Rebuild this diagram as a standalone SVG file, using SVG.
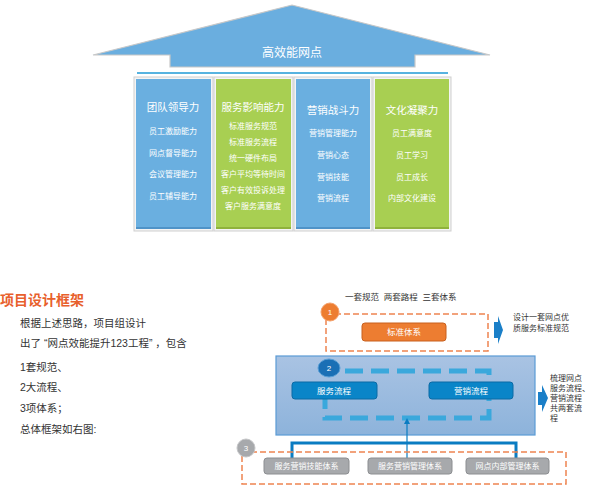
<svg xmlns="http://www.w3.org/2000/svg" width="592" height="494" viewBox="0 0 592 494">
<style>
.cjk{font-family:"Liberation Sans","Noto Sans CJK SC",sans-serif}
.wt{fill:#fff;text-anchor:middle;font-size:8px}
.hd{font-size:10.5px}
.frame{fill:#f4f4f4;stroke:#cfcfcf;stroke-width:1}
.blue{fill:#6aafe0}
.green{fill:#a8cf52}
.body{fill:#333;font-size:10.5px}
.note{fill:#333;font-size:8px}
.odash{fill:none;stroke:#ee8450;stroke-width:1.5;stroke-dasharray:6 3}
.gbtn{fill:#a7a9ac;stroke:#8c8e91;stroke-width:1}
.bbtn{fill:#0a85c8;stroke:#0b6aa5;stroke-width:1}
</style>
<defs>
<linearGradient id="panel" x1="0" y1="0" x2="0" y2="1">
<stop offset="0" stop-color="#a9c3e3"/><stop offset="1" stop-color="#8db3db"/>
</linearGradient>
</defs>
<rect width="592" height="494" fill="#fff"/>

<g id="roof">
<path d="M93,55 L292,5 L490,55 L415,55 L415,67 L170,67 L170,55 Z" fill="#6aaedf" stroke="#c8c8c8" stroke-width="1.2"/>
<text class="cjk wt" x="292" y="57" style="font-size:12px">高效能网点</text>
<line x1="137" y1="73" x2="448" y2="73" stroke="#1f9ad6" stroke-width="1.5"/>
</g>

<g id="col1">
<rect class="frame" x="134" y="77" width="79" height="154"/>
<rect class="blue" x="136" y="79" width="75" height="150"/>
<rect x="136" y="227" width="75" height="2" fill="#4f93c8"/>
<g class="cjk">
<text class="wt hd" x="173" y="111">团队领导力</text>
<text class="wt" x="173" y="134">员工激励能力</text>
<text class="wt" x="173" y="156">网点督导能力</text>
<text class="wt" x="173" y="177">会议管理能力</text>
<text class="wt" x="173" y="199">员工辅导能力</text>
</g>
</g>

<g id="col2">
<rect class="frame" x="214" y="77" width="79" height="154"/>
<rect class="green" x="216" y="79" width="75" height="150"/>
<rect x="216" y="227" width="75" height="2" fill="#8fb23c"/>
<g class="cjk">
<text class="wt hd" x="253" y="111">服务影响能力</text>
<text class="wt" x="253" y="129">标准服务规范</text>
<text class="wt" x="253" y="145">标准服务流程</text>
<text class="wt" x="253" y="161">统一硬件布局</text>
<text class="wt" x="253" y="177">客户平均等待时间</text>
<text class="wt" x="253" y="193">客户有效投诉处理</text>
<text class="wt" x="253" y="209">客户服务满意度</text>
</g>
</g>

<g id="col3">
<rect class="frame" x="294" y="77" width="78" height="154"/>
<rect class="blue" x="296" y="79" width="74" height="150"/>
<rect x="296" y="227" width="74" height="2" fill="#4f93c8"/>
<g class="cjk">
<text class="wt hd" x="333" y="114">营销战斗力</text>
<text class="wt" x="333" y="136">营销管理能力</text>
<text class="wt" x="333" y="158">营销心态</text>
<text class="wt" x="333" y="180">营销技能</text>
<text class="wt" x="333" y="201">营销流程</text>
</g>
</g>

<g id="col4">
<rect class="frame" x="373" y="77" width="78" height="154"/>
<rect class="green" x="375" y="79" width="74" height="150"/>
<rect x="375" y="227" width="74" height="2" fill="#8fb23c"/>
<g class="cjk">
<text class="wt hd" x="412" y="114">文化凝聚力</text>
<text class="wt" x="412" y="136">员工满意度</text>
<text class="wt" x="412" y="158">员工学习</text>
<text class="wt" x="412" y="180">员工成长</text>
<text class="wt" x="412" y="201">内部文化建设</text>
</g>
</g>

<g id="left-text" class="cjk">
<text x="0" y="305" fill="#e8602c" font-weight="bold" font-size="14">项目设计框架</text>
<text class="body" x="20" y="327">根据上述思路，项目组设计</text>
<text class="body" x="20" y="347" style="white-space:pre">出了 “网点效能提升123工程” ，包含</text>
<text class="body" x="20" y="371">1套规范、</text>
<text class="body" x="20" y="391">2大流程、</text>
<text class="body" x="20" y="412">3项体系；</text>
<text class="body" x="20" y="433">总体框架如右图:</text>
</g>

<g id="header" class="cjk">
<text class="note" x="345" y="300" style="font-size:8.5px;white-space:pre">一套规范  两套路程  三套体系</text>
</g>

<g id="layer1">
<rect class="odash" x="326" y="314" width="162" height="37"/>
<circle cx="330" cy="312" r="9" fill="#ed7d31" stroke="#f4a06a" stroke-width="1"/>
<text class="cjk wt" x="330" y="315" style="font-size:8px">1</text>
<rect x="362" y="323" width="84" height="18" rx="3" fill="#ed7d31" stroke="#c8611e" stroke-width="1"/>
<text class="cjk wt" x="404" y="335" style="font-size:8.5px">标准体系</text>
<path d="M494,322 L498,322 L498,316 L503,330 L498,344 L498,338 L494,338 Z" fill="#1a7fc8"/>
<text class="cjk note" x="513" y="320">设计一套网点优</text>
<text class="cjk note" x="513" y="331">质服务标准规范</text>
</g>

<g id="layer2">
<rect x="276" y="356" width="259" height="79" fill="url(#panel)" stroke="#5b9bd5" stroke-width="1.2"/>
<path d="M345,371 L489,371 L489,418 L325,418 L325,399" fill="none" stroke="#3aa8dc" stroke-width="5" stroke-dasharray="18 8"/>
<ellipse cx="329" cy="368" rx="11" ry="9" fill="#1a6fb5" stroke="#5a9fd6" stroke-width="1"/>
<text class="cjk wt" x="329" y="371" style="font-size:8px">2</text>
<rect class="bbtn" x="292" y="382" width="85" height="17" rx="3"/>
<text class="cjk wt" x="334" y="394" style="font-size:8.5px">服务流程</text>
<rect class="bbtn" x="429" y="382" width="84" height="17" rx="3"/>
<text class="cjk wt" x="471" y="394" style="font-size:8.5px">营销流程</text>
<path d="M538,392 L542,392 L542,385 L548,398 L542,412 L542,405 L538,405 Z" fill="#1a7fc8"/>
<g class="cjk note">
<text x="550" y="381">梳理网点</text>
<text x="550" y="391">服务流程、</text>
<text x="550" y="401">营销流程</text>
<text x="550" y="411">共两套流</text>
<text x="550" y="421">程</text>
</g>
</g>

<g id="connectors">
<path d="M292,458 L292,443 L516,443 L516,458" fill="none" stroke="#0a7cc2" stroke-width="3"/>
<line x1="407" y1="458" x2="407" y2="423" stroke="#0a7cc2" stroke-width="1.2"/>
<path d="M404,424 L407,418 L410,424 Z" fill="#0a7cc2"/>
</g>

<g id="layer3">
<rect class="odash" x="242" y="452" width="324" height="32"/>
<circle cx="246" cy="448" r="9" fill="#a7a9ac" stroke="#c5c6c8" stroke-width="1"/>
<text class="cjk wt" x="246" y="451" style="font-size:8px">3</text>
<rect class="gbtn" x="264" y="458" width="85" height="16" rx="3"/>
<text class="cjk wt" x="306.5" y="469" style="font-size:8px">服务营销技能体系</text>
<rect class="gbtn" x="368" y="458" width="84" height="16" rx="3"/>
<text class="cjk wt" x="410" y="469" style="font-size:8px">服务营销管理体系</text>
<rect class="gbtn" x="466" y="458" width="83" height="16" rx="3"/>
<text class="cjk wt" x="507.5" y="469" style="font-size:8px">网点内部管理体系</text>
</g>
</svg>
